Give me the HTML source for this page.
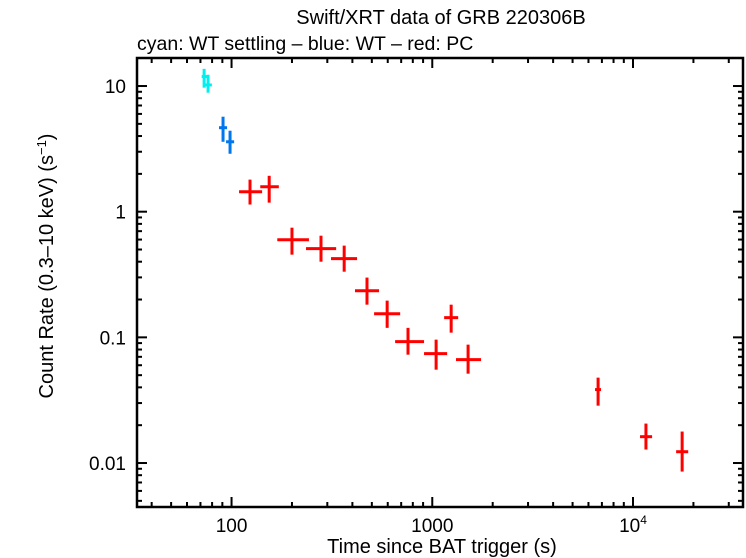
<!DOCTYPE html>
<html><head><meta charset="utf-8"><style>
html,body{margin:0;padding:0;background:#fff;}
svg{display:block;font-family:"Liberation Sans",sans-serif;}
</style></head><body>
<svg id="chart" width="746" height="558">
<text x="441" y="24" font-size="20" text-anchor="middle">Swift/XRT data of GRB 220306B</text>
<text x="137" y="50" font-size="19.5">cyan: WT settling – blue: WT – red: PC</text>
<g id="ticks"></g>
<g id="marks"></g>
<rect x="137" y="58" width="606" height="449" fill="none" stroke="#000" stroke-width="2.5"/>
<text x="442" y="553" font-size="20" text-anchor="middle">Time since BAT trigger (s)</text>
<text transform="translate(53,266) rotate(-90)" font-size="20" text-anchor="middle">Count Rate (0.3–10 keV) (s<tspan dy="-7" font-size="13">−1</tspan><tspan dy="7">)</tspan></text>
</svg>
<script>
const cyanT=[73,76.4], cyanTlo=[71,73.2], cyanThi=[75.5,79.8];
const cyanR=[11.9,10.2], cyanRlo=[9.7,8.85], cyanRhi=[13.7,12.3];
const blueT=[90.7,98.3], blueTlo=[86.6,93.9], blueThi=[95,103];
const blueR=[4.66,3.6], blueRlo=[3.6,2.89], blueRhi=[5.7,4.41];
const redT=[123.6,154,200,279,364,473,596,757,1045,1242,1508,6700,11600,17570];
const redTlo=[109,139,169,235,313,412,513,653,910,1146,1313,6470,10840,16400];
const redThi=[142,172,243,332,422,543,692,910,1186,1346,1750,6930,12450,18840];
const redR=[1.44,1.58,0.598,0.508,0.423,0.235,0.154,0.0924,0.0742,0.1435,0.0665,0.0384,0.0162,0.0123];
const redRlo=[1.14,1.18,0.455,0.40,0.333,0.182,0.119,0.0728,0.0553,0.109,0.0514,0.0286,0.0128,0.00855];
const redRhi=[1.80,1.93,0.746,0.644,0.537,0.299,0.196,0.119,0.0959,0.182,0.0875,0.0478,0.0206,0.0178];
const xTickVals=[100,1000,10000];
const xTickLabels=["100","1000","10^4"];
const yTickVals=[10,1,0.1,0.01];
const yTickLabels=["10","1","0.1","0.01"];
const X0=137,X1=743,Y0=58,Y1=507;
const xlmin=1.529,xlmax=4.548,ylmin=-2.35,ylmax=1.223;
const sx=v=>X0+(Math.log10(v)-xlmin)/(xlmax-xlmin)*(X1-X0);
const sy=v=>Y1-(Math.log10(v)-ylmin)/(ylmax-ylmin)*(Y1-Y0);
const NS="http://www.w3.org/2000/svg";
const tg=document.getElementById('ticks'), mg=document.getElementById('marks');
function ln(g,x1,y1,x2,y2,c,w){const l=document.createElementNS(NS,'line');l.setAttribute('x1',x1);l.setAttribute('y1',y1);l.setAttribute('x2',x2);l.setAttribute('y2',y2);l.setAttribute('stroke',c);l.setAttribute('stroke-width',w);g.appendChild(l);return l;}
for(let d=1;d<=4;d++){for(let m=1;m<10;m++){const v=m*Math.pow(10,d);const lv=Math.log10(v);if(lv<xlmin||lv>xlmax)continue;const x=sx(v);const L=m==1?10:5;
const a=ln(tg,x,Y1,x,Y1-L,'#000',2);
const b=ln(tg,x,Y0,x,Y0+L,'#000',2);}}
for(let d=-3;d<=1;d++){for(let m=1;m<10;m++){const v=m*Math.pow(10,d);const lv=Math.log10(v);if(lv<ylmin||lv>ylmax)continue;const y=sy(v);const L=m==1?10:5;
const a=ln(tg,X0,y,X0+L,y,'#000',2);
const b=ln(tg,X1,y,X1-L,y,'#000',2);}}
xTickVals.forEach((v,i)=>{const t=document.createElementNS(NS,'text');t.setAttribute('x',sx(v));t.setAttribute('y',532);t.setAttribute('font-size','19');t.setAttribute('text-anchor','middle');
const lab=xTickLabels[i];if(lab.startsWith('10^')){t.textContent='10';const s=document.createElementNS(NS,'tspan');s.setAttribute('dy','-8');s.setAttribute('font-size','12');s.textContent=lab.slice(3);t.appendChild(s);}else t.textContent=lab;


tg.appendChild(t);});
yTickVals.forEach((v,i)=>{const t=document.createElementNS(NS,'text');t.setAttribute('x',126);t.setAttribute('y',sy(v)+7);t.setAttribute('font-size','19');t.setAttribute('text-anchor','end');t.textContent=yTickLabels[i];


tg.appendChild(t);});
function series(T,Tlo,Thi,R,Rlo,Rhi,c,name){T.forEach((t,i)=>{const g=document.createElementNS(NS,'g');


ln(g,sx(Tlo[i]),sy(R[i]),sx(Thi[i]),sy(R[i]),c,3);ln(g,sx(t),sy(Rlo[i]),sx(t),sy(Rhi[i]),c,3);mg.appendChild(g);});}
series(cyanT,cyanTlo,cyanThi,cyanR,cyanRlo,cyanRhi,'#00f0f0','wt-settling');
series(blueT,blueTlo,blueThi,blueR,blueRlo,blueRhi,'#0077ee','wt');
series(redT,redTlo,redThi,redR,redRlo,redRhi,'#ff0000','pc');
</script>
</body></html>
